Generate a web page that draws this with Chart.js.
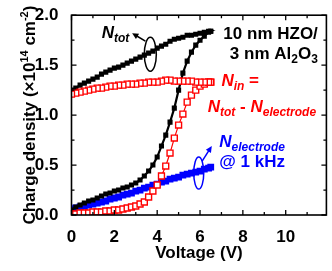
<!DOCTYPE html>
<html>
<head>
<meta charset="utf-8">
<script src="https://cdn.jsdelivr.net/npm/chart.js@4.4.0/dist/chart.umd.min.js"></script>
<style>
  html, body { margin: 0; padding: 0; background: #fff; }
  #wrap { width: 332px; height: 271px; }
</style>
</head>
<body>
<div id="wrap"><canvas id="grafico"></canvas></div>
<script>
// Voltage steps (V)
const voltage = [0,0.2,0.4,0.6,0.8,1.0,1.2,1.4,1.6,1.8,2.0,2.2,2.4,2.6,2.8,3.0,3.2,3.4,3.6,3.8,4.0,4.2,4.4,4.6,4.8,5.0,5.2,5.4,5.6,5.8,6.0,6.2,6.4,6.5];

// N_tot (x1e14 cm^-2): forward sweep (lower branch) and return sweep (upper branch)
const totForward = [0.05,0.08,0.10,0.12,0.14,0.15,0.17,0.19,0.21,0.22,0.24,0.25,0.27,0.28,0.30,0.32,0.35,0.39,0.44,0.50,0.58,0.69,0.80,0.93,1.07,1.25,1.42,1.54,1.63,1.70,1.75,1.79,1.83,1.84];
const totReturn  = [1.25,1.27,1.30,1.32,1.34,1.36,1.38,1.41,1.43,1.45,1.47,1.48,1.50,1.52,1.54,1.56,1.58,1.60,1.62,1.64,1.67,1.69,1.71,1.74,1.76,1.77,1.78,1.80,1.80,1.81,1.82,1.83,1.84,1.84];

// N_in = N_tot - N_electrode
const inForward = [0.01,0.01,0.02,0.02,0.02,0.03,0.03,0.03,0.04,0.04,0.05,0.05,0.06,0.07,0.08,0.09,0.11,0.13,0.18,0.24,0.30,0.39,0.49,0.62,0.77,0.90,1.01,1.13,1.20,1.25,1.29,1.31,1.33,1.33];
const inReturn  = [1.21,1.22,1.23,1.24,1.25,1.26,1.27,1.27,1.28,1.29,1.29,1.30,1.30,1.31,1.31,1.31,1.32,1.32,1.33,1.33,1.33,1.34,1.35,1.35,1.34,1.34,1.34,1.34,1.34,1.33,1.33,1.33,1.33,1.33];

// N_electrode @ 1 kHz
const electrode = [0.06,0.07,0.08,0.09,0.10,0.11,0.12,0.13,0.14,0.16,0.17,0.18,0.20,0.21,0.22,0.24,0.25,0.27,0.28,0.30,0.31,0.33,0.34,0.36,0.37,0.38,0.40,0.41,0.42,0.43,0.44,0.46,0.47,0.48];

// Tick labels
const xTicks = [0, 2, 4, 6, 8, 10];
const yTicks = [0, 0.5, 1.0, 1.5, 2.0];

const FONT = '"Liberation Sans", Arial, sans-serif';

// loop = forward branch then return branch back to 0 V
function loop(fwd, ret) {
  const a = voltage.map((v, i) => ({ x: v, y: fwd[i] }));
  const b = voltage.map((v, i) => ({ x: v, y: ret[i] })).reverse();
  return a.concat(b);
}

// texto com subscritos / sobrescritos
function runs(ctx, x, y, parts, color, align) {
  ctx.save();
  ctx.fillStyle = color;
  ctx.textBaseline = 'alphabetic';
  let w = 0;
  parts.forEach(p => {
    ctx.font = `${p.i ? 'italic ' : ''}bold ${p.s}px ${FONT}`;
    w += ctx.measureText(p.t).width;
  });
  let cx = align === 'right' ? x - w : align === 'center' ? x - w / 2 : x;
  parts.forEach(p => {
    ctx.font = `${p.i ? 'italic ' : ''}bold ${p.s}px ${FONT}`;
    ctx.fillText(p.t, cx, y + (p.dy || 0));
    cx += ctx.measureText(p.t).width;
  });
  ctx.restore();
}

function arrow(ctx, x1, y1, x2, y2, color) {
  const ang = Math.atan2(y2 - y1, x2 - x1);
  ctx.save();
  ctx.strokeStyle = color; ctx.fillStyle = color; ctx.lineWidth = 1.5;
  ctx.beginPath(); ctx.moveTo(x1, y1); ctx.lineTo(x2 - 4 * Math.cos(ang), y2 - 4 * Math.sin(ang)); ctx.stroke();
  ctx.beginPath();
  ctx.moveTo(x2, y2);
  ctx.lineTo(x2 - 7 * Math.cos(ang - 0.45), y2 - 7 * Math.sin(ang - 0.45));
  ctx.lineTo(x2 - 7 * Math.cos(ang + 0.45), y2 - 7 * Math.sin(ang + 0.45));
  ctx.closePath(); ctx.fill();
  ctx.restore();
}

const framePlugin = {
  id: 'frame',
  afterDraw(chart) {
    const { ctx, chartArea: a, scales: { x, y } } = chart;
    ctx.save();
    ctx.strokeStyle = '#000';
    ctx.lineWidth = 1.6;
    ctx.strokeRect(a.left, a.top, a.right - a.left, a.bottom - a.top);
    ctx.lineWidth = 1.3;
    ctx.beginPath();
    for (let v = 0; v <= x.max; v += 1) {
      const px = x.getPixelForValue(v), len = v % 2 === 0 ? 5 : 3;
      ctx.moveTo(px, a.bottom); ctx.lineTo(px, a.bottom - len);
      ctx.moveTo(px, a.top); ctx.lineTo(px, a.top + len);
    }
    for (let v = 0; v <= y.max + 1e-9; v += 0.25) {
      const py = y.getPixelForValue(v), len = Math.abs(v * 2 - Math.round(v * 2)) < 1e-6 ? 5 : 3;
      ctx.moveTo(a.left, py); ctx.lineTo(a.left + len, py);
      ctx.moveTo(a.right, py); ctx.lineTo(a.right - len, py);
    }
    ctx.stroke();
    ctx.restore();

    // y axis title
    ctx.save();
    ctx.translate(29, (a.top + a.bottom) / 2);
    ctx.rotate(-Math.PI / 2);
    const yt = [
      { t: 'Charge density (\u00d710', s: 17 },
      { t: '14', s: 11, dy: -7 },
      { t: ' cm', s: 17 },
      { t: '-2', s: 11, dy: -7 },
      { t: ')', s: 17 }
    ];
    runs(ctx, 0, 6, yt, '#000', 'center');
    ctx.restore();

    // annotations (data coordinates)
    const X = v => x.getPixelForValue(v), Y = v => y.getPixelForValue(v);
    const red = '#ff0000', blue = '#0000ff';
    runs(ctx, X(1.41), Y(1.77), [{ t: 'N', s: 17, i: 1 }, { t: 'tot', s: 12, i: 1, dy: 4 }], '#000');
    runs(ctx, X(11.5), Y(1.76), [{ t: '10 nm HZO/', s: 17 }], '#000', 'right');
    runs(ctx, X(11.5), Y(1.565), [{ t: '3 nm Al', s: 17 }, { t: '2', s: 12, dy: 4 }, { t: 'O', s: 17 }, { t: '3', s: 12, dy: 4 }], '#000', 'right');
    runs(ctx, X(7.0), Y(1.29), [{ t: 'N', s: 17, i: 1 }, { t: 'in', s: 12, i: 1, dy: 4 }, { t: ' =', s: 17 }], red);
    runs(ctx, X(6.36), Y(1.03), [{ t: 'N', s: 17, i: 1 }, { t: 'tot', s: 12, i: 1, dy: 4 }, { t: ' - ', s: 17 },
      { t: 'N', s: 17, i: 1 }, { t: 'electrode', s: 12, i: 1, dy: 4 }], red);
    runs(ctx, X(6.9), Y(0.685), [{ t: 'N', s: 17, i: 1 }, { t: 'electrode', s: 12, i: 1, dy: 4 }], blue);
    runs(ctx, X(6.9), Y(0.48), [{ t: '@ 1 kHz', s: 17 }], blue);

    // ellipses + arrows
    ctx.save();
    ctx.lineWidth = 1.5;
    ctx.strokeStyle = '#000';
    ctx.beginPath(); ctx.ellipse(X(3.68), Y(1.61), 6, 17, 0, 0, Math.PI * 2); ctx.stroke();
    ctx.strokeStyle = blue;
    ctx.beginPath(); ctx.ellipse(X(5.94), Y(0.42), 5, 16, 0, 0, Math.PI * 2); ctx.stroke();
    ctx.restore();
    arrow(ctx, X(3.45), Y(1.74), X(2.83), Y(1.82), '#000');
    arrow(ctx, X(6.1), Y(0.54), X(6.55), Y(0.69), blue);
  }
};

new Chart(document.getElementById('grafico'), {
  type: 'scatter',
  data: {
    datasets: [
      {
        label: 'N_in',
        data: loop(inForward, inReturn),
        showLine: true,
        borderColor: '#ff0000',
        borderWidth: 1.2,
        pointStyle: 'rect',
        pointRadius: 4.2,
        pointBorderWidth: 1.4,
        pointBackgroundColor: '#ffffff',
        pointBorderColor: '#ff0000'
      },
      {
        label: 'N_tot',
        data: loop(totForward, totReturn),
        showLine: true,
        borderColor: '#000',
        borderWidth: 2.2,
        pointStyle: 'rect',
        pointRadius: 3.6,
        pointBorderWidth: 0,
        pointBackgroundColor: '#000'
      },
      {
        label: 'N_electrode',
        data: voltage.map((v, i) => ({ x: v, y: electrode[i] })),
        showLine: true,
        borderColor: '#0000ff',
        borderWidth: 2.5,
        pointStyle: 'rect',
        pointRadius: 4.8,
        pointBorderWidth: 0,
        pointBackgroundColor: '#0000ff'
      }
    ]
  },
  options: {
    responsive: true,
    maintainAspectRatio: false,
    animation: false,
    layout: { padding: { top: 10, right: 3, left: 0, bottom: 0 } },
    plugins: { legend: { display: false }, tooltip: { enabled: false } },
    scales: {
      x: {
        type: 'linear', min: 0, max: 11.9,
        grid: { display: false }, border: { display: false },
        afterBuildTicks: s => { s.ticks = xTicks.map(v => ({ value: v })); },
        afterFit: s => { s.height = 56; },
        ticks: { color: '#000', padding: 4, font: { family: FONT, size: 17, weight: 'bold' } },
        title: { display: true, text: 'Voltage (V)', color: '#000', padding: { top: 0, bottom: 7 },
          font: { family: FONT, size: 17, weight: 'bold' } }
      },
      y: {
        type: 'linear', min: 0, max: 2.0,
        grid: { display: false }, border: { display: false },
        afterBuildTicks: s => { s.ticks = yTicks.map(v => ({ value: v })); },
        afterFit: s => { s.width = 71.5; },
        ticks: { color: '#000', padding: 5, callback: v => Number(v).toFixed(1),
          font: { family: FONT, size: 17, weight: 'bold' } }
      }
    }
  },
  plugins: [framePlugin]
});
</script>
</body>
</html>
